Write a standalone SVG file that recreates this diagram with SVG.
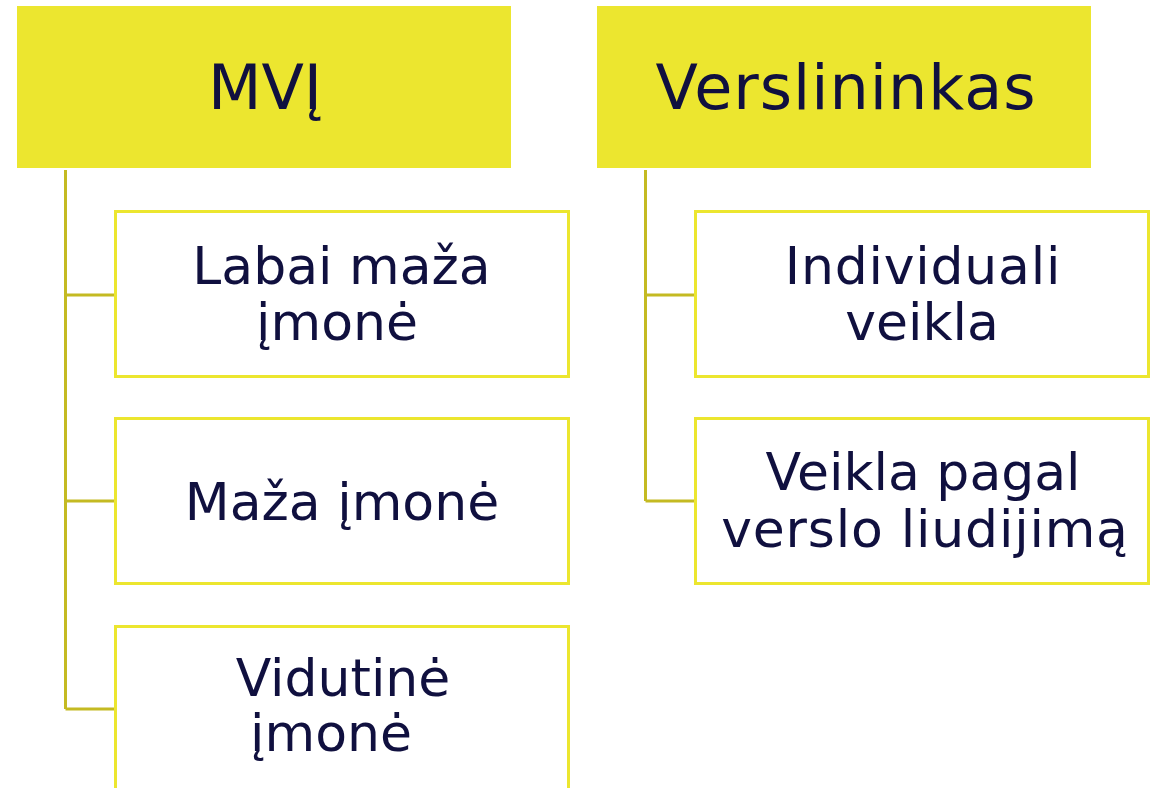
<svg xmlns="http://www.w3.org/2000/svg" width="1163" height="788" viewBox="0 0 1163 788">
<style>
.hdr{fill:#ECE62F}
.child{fill:#FFFFFF;stroke:#ECE62F;stroke-width:3}
.conn{fill:none;stroke:#C4BA22;stroke-width:3}
text{font-family:"DejaVu Sans",Verdana,sans-serif;fill:#10103F;text-anchor:middle}
.h{font-size:62px}
.c{font-size:52px}
.w{letter-spacing:0.8px}
</style>
<rect width="1163" height="788" fill="#FFFFFF"/>
<g id="connectors">
<path class="conn" d="M65.5,170 V709 M65.5,295 H115 M65.5,501 H115 M65.5,709 H115"/>
<path class="conn" d="M645.5,170 V501 M645.5,295 H695 M645.5,501 H695"/>
</g>
<g id="mvi">
<rect class="hdr" x="17" y="6" width="494" height="162"/>
<text class="h" x="265" y="109">MVĮ</text>
</g>
<g id="verslininkas">
<rect class="hdr" x="597" y="6" width="494" height="162"/>
<text class="h" x="846" y="109" style="letter-spacing:1px">Verslininkas</text>
</g>
<g id="labai-maza">
<rect class="child" x="115.5" y="211.5" width="453" height="165"/>
<text class="c" x="341.5" y="284">Labai maža</text>
<text class="c" x="337" y="340">įmonė</text>
</g>
<g id="maza">
<rect class="child" x="115.5" y="418.5" width="453" height="165"/>
<text class="c" x="342" y="520">Maža įmonė</text>
</g>
<g id="vidutine">
<rect class="child" x="115.5" y="626.5" width="453" height="170"/>
<text class="c" x="343" y="696">Vidutinė</text>
<text class="c" x="331" y="751">įmonė</text>
</g>
<g id="individuali">
<rect class="child" x="695.5" y="211.5" width="453" height="165"/>
<text class="c w" x="923" y="284">Individuali</text>
<text class="c" x="922" y="340">veikla</text>
</g>
<g id="liudijimas">
<rect class="child" x="695.5" y="418.5" width="453" height="165"/>
<text class="c" x="923" y="490">Veikla pagal</text>
<text class="c w" x="925" y="547">verslo liudijimą</text>
</g>
</svg>
